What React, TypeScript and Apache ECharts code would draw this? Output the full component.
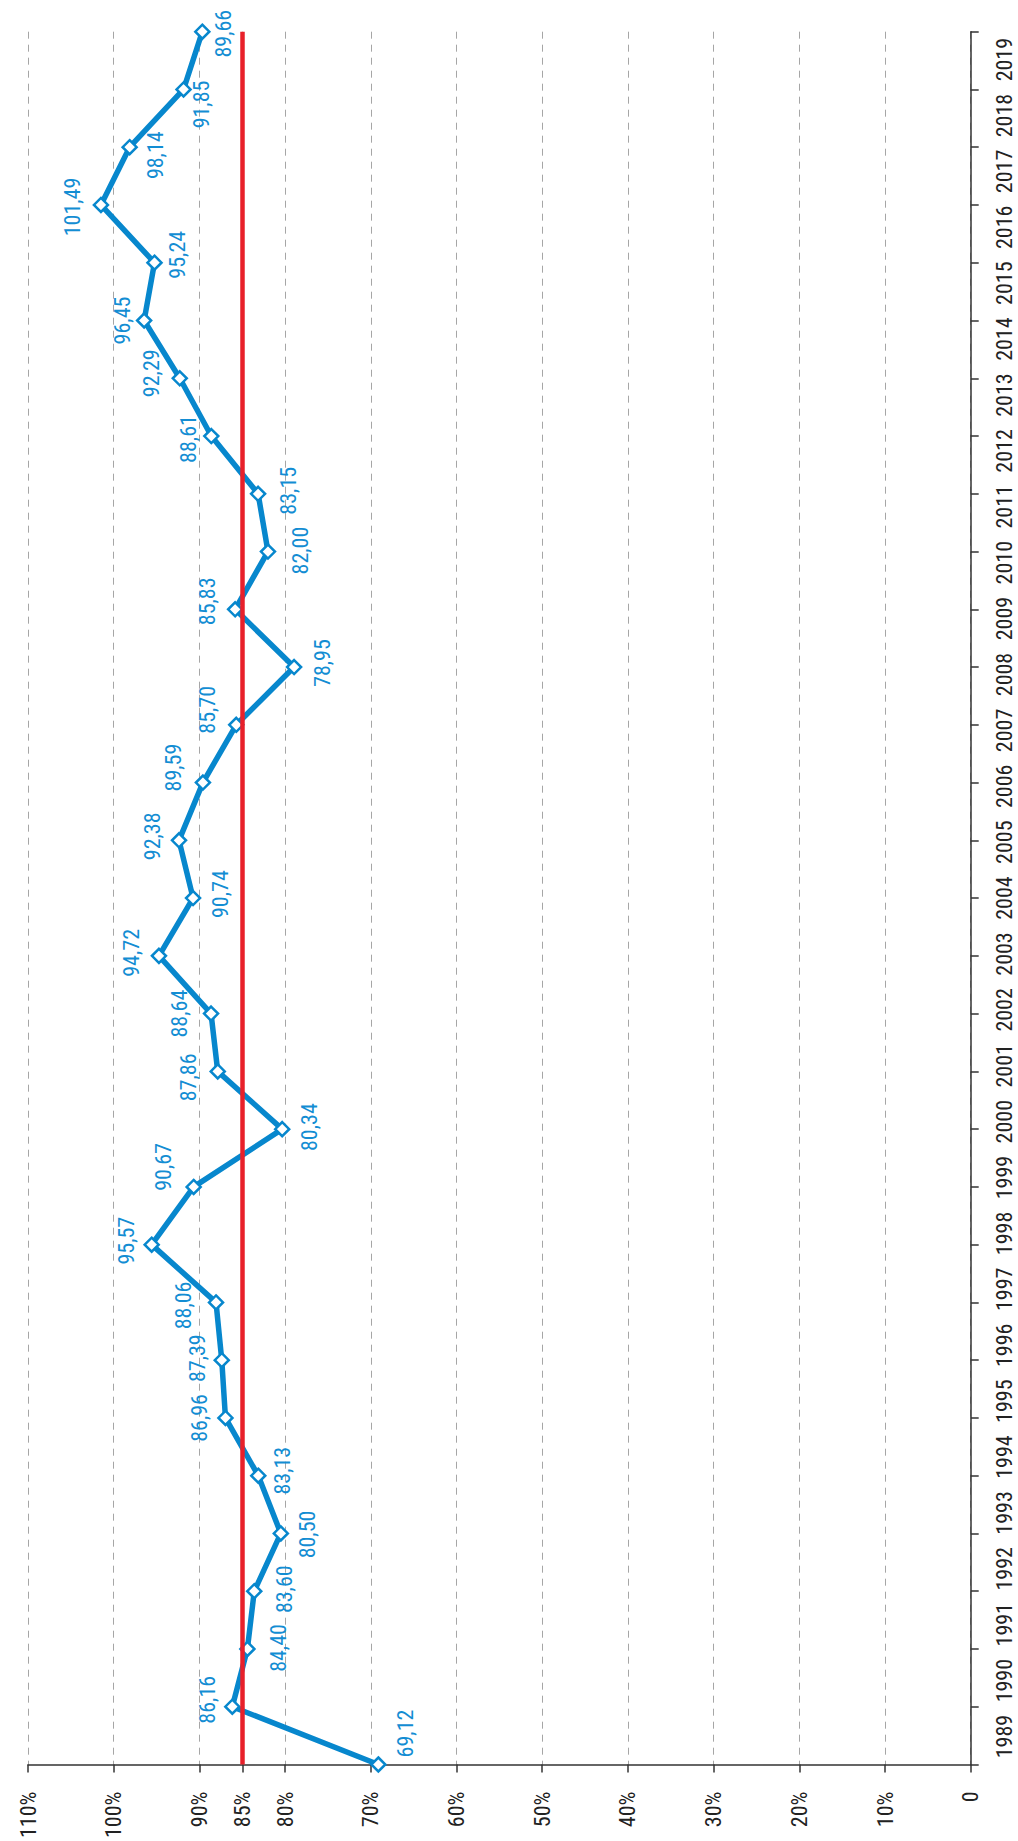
import React, { useEffect, useRef } from 'react';
import * as echarts from 'echarts';

const years = [
  '1989', '1990', '1991', '1992', '1993', '1994', '1995', '1996', '1997', '1998',
  '1999', '2000', '2001', '2002', '2003', '2004', '2005', '2006', '2007', '2008',
  '2009', '2010', '2011', '2012', '2013', '2014', '2015', '2016', '2017', '2018', '2019',
];

const values = [
  69.12, 86.16, 84.4, 83.6, 80.5, 83.13, 86.96, 87.39, 88.06, 95.57,
  90.67, 80.34, 87.86, 88.64, 94.72, 90.74, 92.38, 89.59, 85.7, 78.95,
  85.83, 82.0, 83.15, 88.61, 92.29, 96.45, 95.24, 101.49, 98.14, 91.85, 89.66,
];

const valueTicks = [0, 10, 20, 30, 40, 50, 60, 70, 80, 85, 90, 100, 110];
const targetLevel = 85;

// label placement on screen (dx, dy) relative to each point, layout only
const labelNudge: [number, number][] = [
  [27, -31], [-25, -7], [31, -1], [30, -2], [27, 1], [24, -5], [-26, 0], [-24, -2],
  [-33, 3], [-25, -4], [-30, -20], [27, -2], [-29, 6], [-32, 0], [-27, -3], [27, -4],
  [-27, -4], [-29, -15], [-29, -15], [28, -4], [-28, -8], [33, -1], [30, -3], [-23, 3],
  [-28, -5], [-22, 0], [23, -8], [-28, 2], [26, 8], [18, 15], [21, 2],
];

const BLUE = '#0787cd';
const LABEL_BLUE = '#138dd3';
const FONT = "'Liberation Sans Narrow', 'Roboto Condensed', 'Arial Narrow', 'DejaVu Sans Condensed', 'Liberation Sans', sans-serif";

export default function App() {
  const ref = useRef<HTMLDivElement>(null);

  useEffect(() => {
    document.body.style.margin = '0';
    if (!ref.current) return;
    const chart = echarts.init(ref.current, null, { renderer: 'svg' });

    const data = values.map((v, i) => ({
      value: [v, i],
      label: { offset: [-labelNudge[i][1], labelNudge[i][0]] },
    }));

    chart.setOption({
      animation: false,
      backgroundColor: '#ffffff',
      grid: { left: 28, right: 47.3, top: 31.7, bottom: 76, containLabel: false },
      xAxis: {
        type: 'value',
        inverse: true,
        min: 0,
        max: 110,
        interval: 10,
        position: 'bottom',
        axisLine: { show: true, lineStyle: { color: '#333', width: 1.5 } },
        axisTick: {
          show: true,
          length: 8,
          customValues: valueTicks,
          lineStyle: { color: '#333', width: 1.5 },
        },
        axisLabel: {
          customValues: valueTicks,
          rotate: 90,
          margin: 27,
          fontSize: 22,
          fontFamily: FONT,
          color: '#222',
          formatter: (v: number) => (v === 0 ? '0' : `${v}%`),
        },
        splitLine: {
          show: true,
          lineStyle: { color: '#a6a6a6', width: 1, type: [7, 6] },
        },
      },
      yAxis: [
        {
          type: 'category',
          data: years,
          position: 'right',
          boundaryGap: false,
          axisLine: { show: true, lineStyle: { color: '#333', width: 1.5 } },
          axisTick: { show: true, length: 8, inside: false, lineStyle: { color: '#333', width: 1.5 } },
          axisLabel: { show: false },
          splitLine: { show: false },
        },
        {
          type: 'category',
          data: years,
          position: 'right',
          boundaryGap: true,
          axisLine: { show: false },
          axisTick: { show: false },
          axisLabel: {
            show: true,
            interval: 0,
            rotate: 90,
            margin: 23,
            fontSize: 22,
            fontFamily: FONT,
            color: '#222',
          },
          splitLine: { show: false },
        },
      ],
      series: [
        {
          type: 'line',
          name: 'target',
          xAxisIndex: 0,
          yAxisIndex: 0,
          data: [],
          z: 1,
          silent: true,
          markLine: {
            symbol: 'none',
            silent: true,
            label: { show: false },
            lineStyle: { color: '#e8202a', width: 4.5, type: 'solid' },
            data: [{ xAxis: targetLevel }],
          },
        },
        {
          type: 'line',
          name: 'values',
          xAxisIndex: 0,
          yAxisIndex: 0,
          z: 3,
          clip: false,
          data,
          symbol: 'diamond',
          symbolSize: 14,
          showAllSymbol: true,
          lineStyle: { color: BLUE, width: 5.5 },
          itemStyle: { color: '#ffffff', borderColor: BLUE, borderWidth: 2.5 },
          label: {
            show: true,
            position: 'inside',
            rotate: 90,
            align: 'center',
            verticalAlign: 'middle',
            fontSize: 22,
            fontFamily: FONT,
            color: LABEL_BLUE,
            formatter: (p: any) => Number(p.data.value[0]).toFixed(2).replace('.', ','),
          },
        },
      ],
    });

    return () => chart.dispose();
  }, []);

  return <div ref={ref} style={{ width: 1018, height: 1841 }} />;
}
